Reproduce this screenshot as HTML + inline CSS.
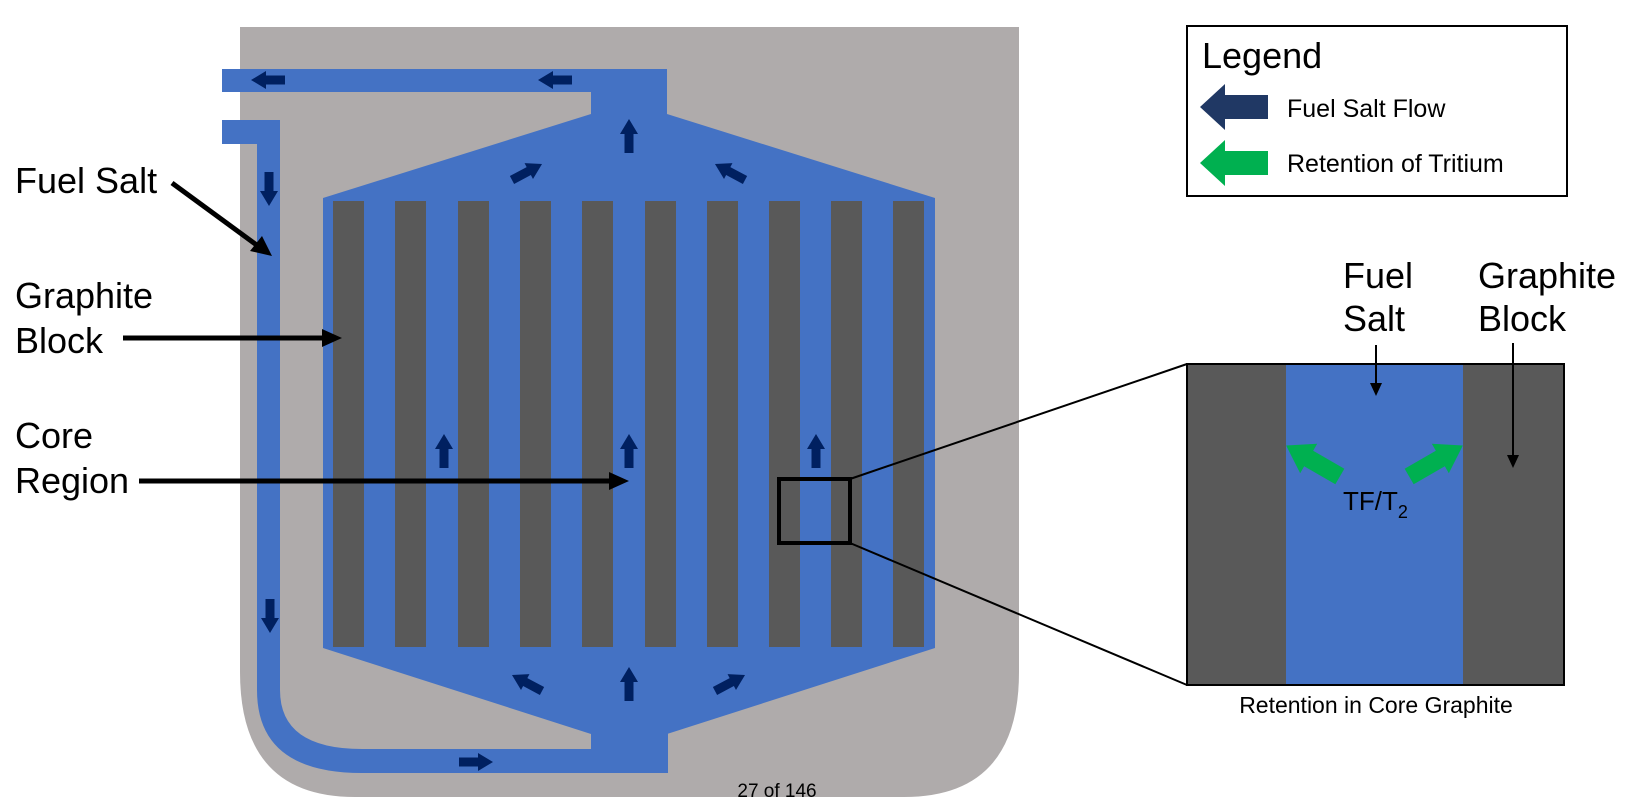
<!DOCTYPE html>
<html><head><meta charset="utf-8"><style>
html,body{margin:0;padding:0;background:#fff;}
svg{display:block;font-family:"Liberation Sans",Arial,sans-serif;}
</style></head><body>
<svg width="1639" height="807" viewBox="0 0 1639 807" xmlns="http://www.w3.org/2000/svg">
<defs>
<polygon id="a" points="-17,-4.5 2,-4.5 2,-9 17,0 2,9 2,4.5 -17,4.5" fill="#002060"/>
</defs>
<path d="M240,27 H1019 V672 Q1019,797 904,797 H355 Q240,797 240,672 Z" fill="#afabab"/>
<g fill="#4472c4">
<rect x="222" y="69" width="445" height="23"/>
<rect x="591" y="69" width="76" height="50"/>
<polygon points="591,114 667,114 935,198 935,648 667,734 591,734 323,648 323,198"/>
<rect x="591" y="730" width="77" height="43"/>
<rect x="222" y="120" width="58" height="24"/>
<path d="M257,120 H280 V690 Q280,749 362,749 H668 V773 H362 Q257,773 257,690 Z"/>
</g>
<g fill="#595959">
<rect x="333" y="201" width="31" height="446"/>
<rect x="395" y="201" width="31" height="446"/>
<rect x="458" y="201" width="31" height="446"/>
<rect x="520" y="201" width="31" height="446"/>
<rect x="582" y="201" width="31" height="446"/>
<rect x="645" y="201" width="31" height="446"/>
<rect x="707" y="201" width="31" height="446"/>
<rect x="769" y="201" width="31" height="446"/>
<rect x="831" y="201" width="31" height="446"/>
<rect x="893" y="201" width="31" height="446"/>
</g>
<use href="#a" transform="translate(268,80) rotate(180)"/>
<use href="#a" transform="translate(555,80) rotate(180)"/>
<use href="#a" transform="translate(629,136) rotate(-90)"/>
<use href="#a" transform="translate(527,172) rotate(-28)"/>
<use href="#a" transform="translate(730,172) rotate(-152)"/>
<use href="#a" transform="translate(269,189) rotate(90)"/>
<use href="#a" transform="translate(270,616) rotate(90)"/>
<use href="#a" transform="translate(476,762)"/>
<use href="#a" transform="translate(629,684) rotate(-90)"/>
<use href="#a" transform="translate(527,683) rotate(-152)"/>
<use href="#a" transform="translate(730,683) rotate(-28)"/>
<use href="#a" transform="translate(444,451) rotate(-90)"/>
<use href="#a" transform="translate(629,451) rotate(-90)"/>
<use href="#a" transform="translate(816,451) rotate(-90)"/>
<rect x="779" y="479" width="71" height="64" fill="none" stroke="#000" stroke-width="4"/>
<line x1="850" y1="479" x2="1187" y2="364" stroke="#000" stroke-width="2"/>
<line x1="850" y1="543" x2="1187" y2="685" stroke="#000" stroke-width="2"/>
<g font-size="36" fill="#000">
<text x="15" y="193">Fuel Salt</text>
<text x="15" y="308">Graphite</text>
<text x="15" y="353">Block</text>
<text x="15" y="448">Core</text>
<text x="15" y="493">Region</text>
</g>
<g stroke="#000" stroke-width="5">
<line x1="172" y1="183" x2="258" y2="246"/>
<line x1="123" y1="338" x2="325" y2="338"/>
<line x1="139" y1="481" x2="612" y2="481"/>
</g>
<polygon points="272,256 250,251 262,236" fill="#000"/>
<polygon points="342,338 322,329 322,347" fill="#000"/>
<polygon points="629,481 609,472 609,490" fill="#000"/>
<rect x="1187" y="26" width="380" height="170" fill="#fff" stroke="#000" stroke-width="2"/>
<text x="1202" y="68" font-size="36">Legend</text>
<polygon points="1200,107 1225,84 1225,95 1268,95 1268,119 1225,119 1225,130" fill="#203864"/>
<polygon points="1200,163 1225,140 1225,151 1268,151 1268,175 1225,175 1225,186" fill="#00b050"/>
<text x="1287" y="117" font-size="25">Fuel Salt Flow</text>
<text x="1287" y="172" font-size="25">Retention of Tritium</text>
<rect x="1187" y="364" width="377" height="321" fill="#595959"/>
<rect x="1286" y="364" width="177" height="321" fill="#4472c4"/>
<rect x="1187" y="364" width="377" height="321" fill="none" stroke="#000" stroke-width="2"/>
<g font-size="36" fill="#000">
<text x="1343" y="288">Fuel</text>
<text x="1343" y="331">Salt</text>
<text x="1478" y="288">Graphite</text>
<text x="1478" y="331">Block</text>
</g>
<line x1="1376" y1="345" x2="1376" y2="386" stroke="#000" stroke-width="2"/>
<polygon points="1376,396 1370,383 1382,383" fill="#000"/>
<line x1="1513" y1="343" x2="1513" y2="458" stroke="#000" stroke-width="2"/>
<polygon points="1513,468 1507,455 1519,455" fill="#000"/>
<polygon points="-31,-9 5,-9 5,-17 31,0 5,17 5,9 -31,9" fill="#00b050" transform="translate(1313,461) rotate(-150)"/>
<polygon points="-31,-9 5,-9 5,-17 31,0 5,17 5,9 -31,9" fill="#00b050" transform="translate(1436,461) rotate(-30)"/>
<text x="1343" y="510" font-size="26" fill="#000">TF/T<tspan font-size="18" dy="8">2</tspan></text>
<text x="1376" y="713" font-size="23" text-anchor="middle" fill="#000">Retention in Core Graphite</text>
<text x="777" y="797" font-size="19" text-anchor="middle" fill="#000">27 of 146</text>
</svg>
</body></html>
